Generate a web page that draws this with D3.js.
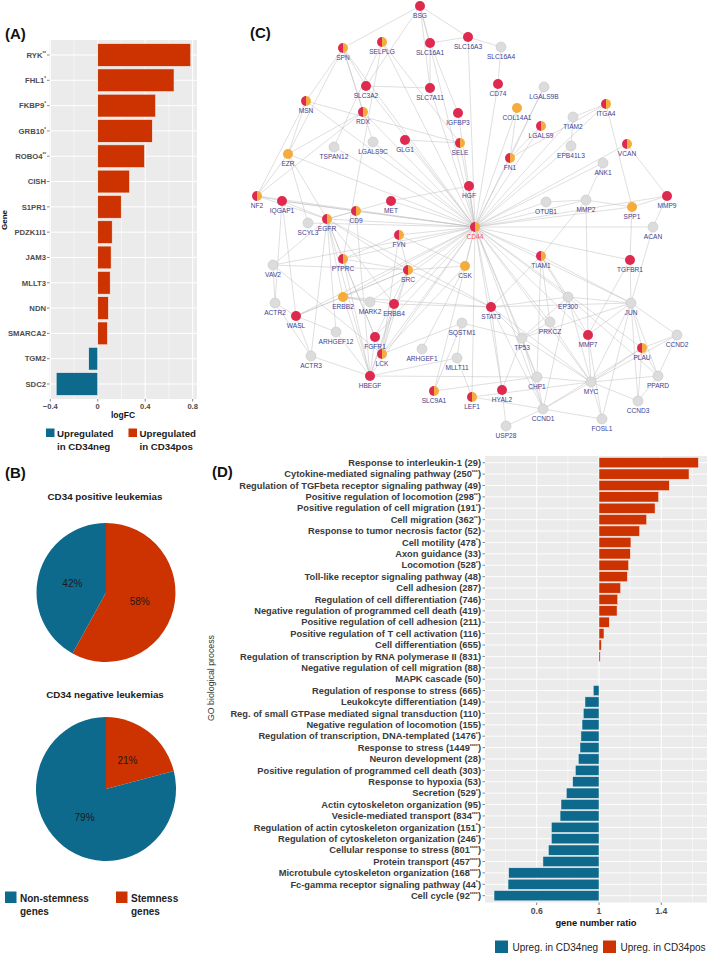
<!DOCTYPE html>
<html><head><meta charset="utf-8">
<script src="https://cdn.jsdelivr.net/npm/d3@7"></script>
<style>body{margin:0;background:#fff}svg{display:block}text{font-family:"Liberation Sans",Arial,sans-serif}</style>
</head><body><svg id="c" width="709" height="954"></svg>
<script>
// ---------- Panel A data ----------
const genes = ["RYK","FHL1","FKBP9","GRB10","ROBO4","CISH","S1PR1","PDZK1I1","JAM3","MLLT3","NDN","SMARCA2","TGM2","SDC2"];
const geneStars = ["**","*","*","*","**","","","","","","","","",""];
const geneLogFC = [0.784,0.643,0.488,0.46,0.395,0.268,0.198,0.122,0.113,0.105,0.09,0.082,-0.076,-0.35];
const logFCTicks = [-0.4,0,0.4,0.8];
const logFCMinor = [-0.2,0.2,0.6];
const legendA = ["Upregulated\nin CD34neg","Upregulated\nin CD34pos"];

// ---------- Panel B data ----------
const pieTitles = ["CD34 positive leukemias","CD34 negative leukemias"];
const pieCategories = ["Stemness genes","Non-stemness genes"];
const piePositive = [58,42];
const pieNegative = [21,79];
const legendB = ["Non-stemness\ngenes","Stemness\ngenes"];

// ---------- Panel C data ----------
const netNames = ["BSG","SPN","SELPLG","SLC16A1","SLC16A3","SLC16A4","SLC3A2","SLC7A11","MSN","RDX","IGFBP3","CD74","LGALS9B","COL14A1","ITGA4","TIAM2","LGALS9","TSPAN12","LGALS9C","GLG1","SELE","EPB41L3","VCAN","EZR","FN1","ANK1","HGF","NF2","IQGAP1","MET","MMP9","OTUB1","MMP2","SPP1","CD9","EGFR","SCYL3","CD44","ACAN","FYN","TIAM1","TGFBR1","PTPRC","VAV2","CSK","SRC","ERBB2","EP300","ACTR2","MARK2","ERBB4","JUN","STAT3","WASL","PRKCZ","SQSTM1","ARHGEF12","FGFR1","TP53","MMP7","CCND2","PLAU","ARHGEF1","LCK","MLLT11","ACTR3","HBEGF","CHP1","PPARD","MYC","SLC9A1","HYAL2","LEF1","CCND3","CCND1","FOSL1","USP28"];
// node class: r = CD34pos-related, o = other study, h = both, g = linker
const netTypes = ["r","h","h","r","r","g","r","r","h","h","r","r","g","o","h","g","h","g","g","r","h","g","h","o","h","g","r","h","r","r","r","g","g","o","h","h","g","h","g","h","h","r","h","g","o","h","o","g","g","g","r","g","r","r","g","g","g","r","g","r","g","h","g","h","g","g","r","g","g","g","h","r","h","g","g","g","g"];
// layout units (network layout space)
const netLayoutX = [170,93,132,180,218,251,116,180,56,113,208,248,294,267,356,323,291,84,123,155,210,321,377,38,260,353,219,7,32,141,417,296,336,382,106,77,58,225,403,149,291,380,93,23,215,158,93,318,25,120,144,381,241,46,300,212,86,125,272,338,427,392,172,132,207,61,120,287,408,341,184,252,222,388,293,352,256];
const netLayoutY = [6,48,42,43,37,47,86,88,101,112,113,84,87,108,104,117,126,147,142,140,143,146,144,154,158,163,186,196,201,201,196,202,200,207,211,219,223,227,227,235,256,260,259,265,266,270,297,297,303,302,304,303,307,316,322,323,332,337,338,335,335,348,349,354,358,356,376,377,376,382,391,390,397,401,409,419,426];
const hubTargets = ["BSG","SPN","SELPLG","SLC16A3","SLC3A2","SLC7A11","MSN","RDX","IGFBP3","GLG1","SELE","EZR","HGF","NF2","IQGAP1","MET","CD9","CD74","COL14A1","ITGA4","LGALS9","VCAN","FN1","MMP9","OTUB1","MMP2","SPP1","EGFR","FYN","PTPRC","SRC","CSK","ERBB2","ERBB4","FGFR1","LCK","HBEGF","STAT3","TIAM1","TGFBR1","JUN","MMP7","PLAU","TIAM2","EPB41L3","ANK1","SLC9A1","LEF1","HYAL2","EP300","ACAN","VAV2","MARK2","TP53","MYC","CCND1","SCYL3","TSPAN12","LGALS9C","WASL","CHP1","PRKCZ","LGALS9B"];
const otherEdges = [["BSG","SPN"],["BSG","SLC16A1"],["BSG","SLC16A3"],["BSG","SLC7A11"],["BSG","SLC3A2"],["SLC16A1","SLC16A3"],["SLC16A3","SLC16A4"],["SLC16A4","CD74"],["SLC16A1","SLC7A11"],["SLC3A2","SLC7A11"],["SPN","MSN"],["SPN","EZR"],["SPN","SLC3A2"],["SPN","RDX"],["SPN","LGALS9C"],["SELPLG","SELE"],["SELPLG","PTPRC"],["SELPLG","TSPAN12"],["MSN","EZR"],["MSN","NF2"],["MSN","SELE"],["EZR","NF2"],["EZR","EGFR"],["EZR","SCYL3"],["EZR","RDX"],["RDX","NF2"],["GLG1","SELE"],["IGFBP3","SLC16A1"],["HGF","MET"],["MET","EGFR"],["NF2","IQGAP1"],["NF2","EGFR"],["IQGAP1","EGFR"],["IQGAP1","CD9"],["IQGAP1","WASL"],["IQGAP1","ACTR2"],["CD9","EGFR"],["CD9","HBEGF"],["EGFR","ERBB2"],["EGFR","ERBB4"],["EGFR","SRC"],["EGFR","HBEGF"],["EGFR","STAT3"],["EGFR","VAV2"],["EGFR","PTPRC"],["EGFR","ACTR3"],["EGFR","FGFR1"],["VAV2","SRC"],["VAV2","LCK"],["VAV2","ACTR2"],["PTPRC","LCK"],["PTPRC","FYN"],["PTPRC","SRC"],["PTPRC","HBEGF"],["SRC","FYN"],["SRC","LCK"],["SRC","CSK"],["SRC","STAT3"],["SRC","ERBB2"],["SRC","HBEGF"],["SRC","WASL"],["FYN","CSK"],["FYN","LCK"],["CSK","LCK"],["ERBB2","ERBB4"],["ERBB2","HBEGF"],["ERBB2","MARK2"],["ERBB2","STAT3"],["ERBB2","WASL"],["ERBB4","HBEGF"],["ERBB4","LCK"],["ERBB4","STAT3"],["FGFR1","HBEGF"],["FGFR1","SRC"],["ACTR2","ACTR3"],["ACTR2","WASL"],["ACTR3","WASL"],["ACTR3","HBEGF"],["ARHGEF12","WASL"],["ARHGEF12","HBEGF"],["ARHGEF12","EGFR"],["HBEGF","MLLT11"],["HBEGF","CHP1"],["SQSTM1","MLLT11"],["SQSTM1","TP53"],["SQSTM1","SLC9A1"],["SQSTM1","LCK"],["MLLT11","LEF1"],["ARHGEF1","CSK"],["STAT3","JUN"],["STAT3","EP300"],["STAT3","TP53"],["STAT3","MYC"],["STAT3","CCND1"],["STAT3","HYAL2"],["STAT3","TIAM1"],["TIAM1","EP300"],["TIAM1","JUN"],["TIAM1","PRKCZ"],["TIAM1","CHP1"],["TIAM1","MMP7"],["EP300","JUN"],["EP300","TP53"],["EP300","MYC"],["EP300","CCND1"],["EP300","PPARD"],["JUN","ACAN"],["JUN","TGFBR1"],["JUN","MMP7"],["JUN","PLAU"],["JUN","CCND2"],["JUN","PPARD"],["JUN","MYC"],["JUN","FOSL1"],["JUN","CCND3"],["JUN","TP53"],["TGFBR1","MMP7"],["TGFBR1","SPP1"],["SPP1","MMP9"],["SPP1","ITGA4"],["SPP1","MMP2"],["MMP9","VCAN"],["MMP9","ACAN"],["ITGA4","TIAM2"],["ITGA4","FN1"],["LGALS9","FN1"],["LGALS9B","FN1"],["COL14A1","FN1"],["MMP2","MMP7"],["MMP2","TIAM1"],["MMP2","OTUB1"],["MMP7","MYC"],["MMP7","FOSL1"],["PRKCZ","TP53"],["PRKCZ","MYC"],["TP53","MYC"],["TP53","CCND1"],["TP53","CHP1"],["TP53","HYAL2"],["CHP1","CCND1"],["CHP1","MYC"],["MYC","CCND1"],["MYC","CCND2"],["MYC","CCND3"],["MYC","FOSL1"],["MYC","PPARD"],["MYC","PLAU"],["PLAU","CCND2"],["PLAU","PPARD"],["PLAU","CCND3"],["PLAU","CCND1"],["PPARD","CCND3"],["PPARD","CCND2"],["CCND1","FOSL1"],["USP28","HYAL2"],["USP28","CCND1"],["LEF1","MYC"],["LEF1","CCND1"],["SLC9A1","CHP1"],["EPB41L3","TIAM2"],["ANK1","MMP2"]];

// ---------- Panel D data ----------
const goTerms = ["Response to interleukin-1","Cytokine-mediated signaling pathway","Regulation of TGFbeta receptor signaling pathway","Positive regulation of locomotion","Positive regulation of cell migration","Cell migration","Response to tumor necrosis factor","Cell motility","Axon guidance","Locomotion","Toll-like receptor signaling pathway","Cell adhesion","Regulation of cell differentiation","Negative regulation of programmed cell death","Positive regulation of cell adhesion","Positive regulation of T cell activation","Cell differentiation","Regulation of transcription by RNA polymerase II","Negative regulation of cell migration","MAPK cascade","Regulation of response to stress","Leukokcyte differentiation","Reg. of small GTPase mediated signal transduction","Negative regulation of locomotion ","Regulation of transcription, DNA-templated","Response to stress","Neuron development","Positive regulation of programmed cell death","Response to hypoxia","Secretion","Actin cytoskeleton organization","Vesicle-mediated transport","Regulation of actin cytoskeleton organization","Regulation of cytoskeleton organization","Cellular response to stress","Protein transport","Microtubule cytoskeleton organization","Fc-gamma receptor signaling pathway","Cell cycle"];
const goCounts = [29,250,49,298,191,362,52,478,33,528,48,287,746,419,211,116,655,831,88,50,665,149,110,155,1476,1449,28,303,53,529,95,834,151,246,801,457,168,44,92];
const goStars = ["","***","","**","*","**","","*","","*","","","","","","","","","","","","","","","*","****","","","","*","","***","*","*","****","****","****","*","****"];
const goRatios = [1.638,1.578,1.451,1.383,1.36,1.306,1.261,1.205,1.201,1.19,1.182,1.139,1.12,1.116,1.066,1.032,1.015,1.008,1.0,1.0,0.963,0.91,0.899,0.891,0.884,0.878,0.867,0.848,0.831,0.79,0.756,0.75,0.694,0.694,0.675,0.64,0.42,0.416,0.326];
const ratioTicks = [0.6,1,1.4];
const ratioMinor = [0.4,0.8,1.2,1.6];
const legendD = ["Upreg. in CD34neg","Upreg. in CD34pos"];

// ---------- Styles ----------
const BLUE = "#0E6A8C", RED = "#CC3300", PANEL = "#EBEBEB", AXT = "#4D4D4D";
const svg = d3.select("#c");

function panelLabel(t,x,y){ svg.append("text").attr("x",x).attr("y",y).attr("font-size",15).attr("font-weight","bold").attr("fill","#111").text(t); }
panelLabel("(A)",5,38.5); panelLabel("(B)",5,478); panelLabel("(C)",250,38); panelLabel("(D)",212,477);

// ================= Panel A =================
(function(){
  const x = d3.scaleLinear().domain([-0.4065,0.8365]).range([49.5,197]);
  const y = d3.scalePoint().domain(genes).range([55,384]);
  const step = y.step(), top = 40, bot = 399;
  const g = svg.append("g");
  g.append("rect").attr("x",x.range()[0]).attr("y",top).attr("width",x.range()[1]-x.range()[0]).attr("height",bot-top).attr("fill",PANEL);
  g.selectAll(".mn").data(logFCMinor).join("line").attr("x1",d=>x(d)).attr("x2",d=>x(d)).attr("y1",top).attr("y2",bot).attr("stroke","#fff").attr("stroke-width",0.5);
  g.selectAll(".mj").data(logFCTicks).join("line").attr("x1",d=>x(d)).attr("x2",d=>x(d)).attr("y1",top).attr("y2",bot).attr("stroke","#fff").attr("stroke-width",1);
  g.selectAll(".hg").data(genes).join("line").attr("x1",x.range()[0]).attr("x2",x.range()[1]).attr("y1",d=>y(d)).attr("y2",d=>y(d)).attr("stroke","#fff").attr("stroke-width",1);
  g.selectAll(".bar").data(genes).join("rect")
    .attr("x",(d,i)=>x(Math.min(0,geneLogFC[i]))).attr("width",(d,i)=>Math.abs(x(geneLogFC[i])-x(0)))
    .attr("y",d=>y(d)-step*0.45).attr("height",step*0.9)
    .attr("fill",(d,i)=>geneLogFC[i]>=0?RED:BLUE).attr("stroke","#f3f3f3").attr("stroke-width",0.6);
  g.selectAll(".yt").data(genes).join("line").attr("x1",x.range()[0]-2.5).attr("x2",x.range()[0]).attr("y1",d=>y(d)).attr("y2",d=>y(d)).attr("stroke","#333").attr("stroke-width",0.6);
  const yl = g.selectAll(".yl").data(genes).join("text").attr("x",x.range()[0]-3.5).attr("y",d=>y(d)+2.8).attr("text-anchor","end")
    .attr("font-size",7.7).attr("font-weight","bold").attr("fill",AXT);
  yl.each(function(d,i){ const t=d3.select(this); t.append("tspan").text(d); if(geneStars[i]) t.append("tspan").attr("font-size",4.5).attr("dy",-3).text(geneStars[i]); });
  g.selectAll(".xt").data(logFCTicks).join("line").attr("x1",d=>x(d)).attr("x2",d=>x(d)).attr("y1",bot).attr("y2",bot+2.5).attr("stroke","#333").attr("stroke-width",0.6);
  g.selectAll(".xl").data(logFCTicks).join("text").attr("x",d=>x(d)).attr("y",bot+10).attr("text-anchor","middle").attr("font-size",7.6).attr("font-weight","bold").attr("fill",AXT).text(d=>d===0?"0":d3.format(".1f")(d));
  g.append("text").attr("x",123).attr("y",418).attr("text-anchor","middle").attr("font-size",8.5).attr("font-weight","bold").attr("fill","#111").text("logFC");
  g.append("text").attr("transform","translate(7,220) rotate(-90)").attr("text-anchor","middle").attr("font-size",8).attr("font-weight","bold").attr("fill","#111").text("Gene");
  const lx=[46,128.5], cols=[BLUE,RED];
  legendA.forEach((s,i)=>{
    g.append("rect").attr("x",lx[i]).attr("y",428.5).attr("width",8.5).attr("height",8.5).attr("fill",cols[i]);
    s.split("\n").forEach((ln,j)=>g.append("text").attr("x",lx[i]+11).attr("y",437+j*13).attr("font-size",9.7).attr("font-weight","bold").attr("fill","#222").text(ln));
  });
})();

// ================= Panel B =================
(function(){
  const color = d3.scaleOrdinal().domain(pieCategories).range([RED,BLUE]);
  const pie = d3.pie().sort(null).value(d=>d.v);
  const specs = [{vals:piePositive,cx:106,cy:592.5,rx:69.5,ry:69.5,ty:500,title:pieTitles[0]},
                 {vals:pieNegative,cx:106,cy:789,rx:70,ry:72,ty:698,title:pieTitles[1]}];
  specs.forEach(s=>{
    svg.append("text").attr("x",105).attr("y",s.ty).attr("text-anchor","middle").attr("font-size",9.8).attr("font-weight","bold").attr("fill","#222").text(s.title);
    const data = pie(pieCategories.map((c,i)=>({c,v:s.vals[i]})));
    const arc = d3.arc().innerRadius(0).outerRadius(s.rx);
    const g = svg.append("g").attr("transform",`translate(${s.cx},${s.cy}) scale(1,${s.ry/s.rx})`);
    g.selectAll("path").data(data).join("path").attr("d",arc).attr("fill",d=>color(d.data.c));
    data.forEach(d=>{
      const [px,py]=arc.centroid(d);
      svg.append("text").attr("x",s.cx+px).attr("y",s.cy+py*s.ry/s.rx+3.5).attr("text-anchor","middle").attr("font-size",10).attr("fill","#1a1a1a").text(d.data.v+"%");
    });
  });
  const lx=[5,116], cols=[BLUE,RED];
  legendB.forEach((s,i)=>{
    svg.append("rect").attr("x",lx[i]).attr("y",891.5).attr("width",11.5).attr("height",11.5).attr("fill",cols[i]);
    s.split("\n").forEach((ln,j)=>svg.append("text").attr("x",lx[i]+15).attr("y",902+j*12.5).attr("font-size",10).attr("font-weight","bold").attr("fill","#222").text(ln));
  });
})();

// ================= Panel C =================
(function(){
  const x = d3.scaleLinear().domain([0,440]).range([250,690]);
  const y = d3.scaleLinear().domain([0,440]).range([0,440]);
  const nodes = netNames.map((n,i)=>({id:n,type:netTypes[i],x:x(netLayoutX[i]),y:y(netLayoutY[i])}));
  const byId = new Map(nodes.map(n=>[n.id,n]));
  const edges = hubTargets.map(t=>["CD44",t]).concat(otherEdges);
  const g = svg.append("g");
  g.selectAll("line").data(edges).join("line")
    .attr("x1",d=>byId.get(d[0]).x).attr("y1",d=>byId.get(d[0]).y)
    .attr("x2",d=>byId.get(d[1]).x).attr("y2",d=>byId.get(d[1]).y)
    .attr("stroke","#BDBDBD").attr("stroke-width",0.55).attr("stroke-opacity",0.9);
  const NRED="#DF2A50", NOR="#F4AD3D", NGR="#DCDCDC", r=5;
  const half = d3.arc().innerRadius(0).outerRadius(r);
  const ng = g.selectAll(".n").data(nodes).join("g").attr("transform",d=>`translate(${d.x},${d.y})`);
  ng.each(function(d){
    const s=d3.select(this);
    if(d.type==="h"){
      s.append("path").attr("d",half({startAngle:Math.PI,endAngle:2*Math.PI})).attr("fill",NRED);
      s.append("path").attr("d",half({startAngle:0,endAngle:Math.PI})).attr("fill",NOR);
    } else {
      s.append("circle").attr("r",r).attr("fill",d.type==="r"?NRED:d.type==="o"?NOR:NGR)
        .attr("stroke",d.type==="g"?"#C6C6C6":"none").attr("stroke-width",0.6);
    }
  });
  ng.append("text").attr("y",12).attr("text-anchor","middle").attr("font-size",6.6)
    .attr("fill",d=>d.id==="CD44"?"#FF4A4A":"#3D3D8F").text(d=>d.id);
})();

// ================= Panel D =================
(function(){
  const x = d3.scaleLinear().domain([0.6,1.4]).range([536.7,661.3]);
  const y = d3.scalePoint().domain(goTerms).range([462.7,895.7]);
  const step=y.step(), left=485, right=707, top=456, bot=902.5;
  const g = svg.append("g");
  g.append("rect").attr("x",left).attr("y",top).attr("width",right-left).attr("height",bot-top).attr("fill",PANEL);
  g.selectAll(".mn").data(ratioMinor).join("line").attr("x1",d=>x(d)).attr("x2",d=>x(d)).attr("y1",top).attr("y2",bot).attr("stroke","#fff").attr("stroke-width",0.5);
  g.selectAll(".mj").data(ratioTicks).join("line").attr("x1",d=>x(d)).attr("x2",d=>x(d)).attr("y1",top).attr("y2",bot).attr("stroke","#fff").attr("stroke-width",1);
  g.selectAll(".hg").data(goTerms).join("line").attr("x1",left).attr("x2",right).attr("y1",d=>y(d)).attr("y2",d=>y(d)).attr("stroke","#fff").attr("stroke-width",0.9);
  g.selectAll(".bar").data(goTerms).join("rect")
    .attr("x",(d,i)=>x(Math.min(1,goRatios[i]))).attr("width",(d,i)=>Math.abs(x(goRatios[i])-x(1)))
    .attr("y",d=>y(d)-step*0.45).attr("height",step*0.9)
    .attr("fill",(d,i)=>goRatios[i]>=1?RED:BLUE).attr("stroke","#f3f3f3").attr("stroke-width",0.5);
  g.selectAll(".yt").data(goTerms).join("line").attr("x1",left-2.5).attr("x2",left).attr("y1",d=>y(d)).attr("y2",d=>y(d)).attr("stroke","#333").attr("stroke-width",0.6);
  const yl = g.selectAll(".yl").data(goTerms).join("text").attr("x",left-4).attr("y",d=>y(d)+3.2).attr("text-anchor","end")
    .attr("font-size",9.3).attr("font-weight","bold").attr("fill","#3a3a3a");
  yl.each(function(d,i){
    const t=d3.select(this);
    t.append("tspan").text(d+" ("+goCounts[i]);
    if(goStars[i]){ t.append("tspan").attr("font-size",5.2).attr("dy",-3.2).text(goStars[i]); t.append("tspan").attr("dy",3.2).text(")"); }
    else t.append("tspan").text(")");
  });
  g.selectAll(".xt").data(ratioTicks).join("line").attr("x1",d=>x(d)).attr("x2",d=>x(d)).attr("y1",bot).attr("y2",bot+2.5).attr("stroke","#333").attr("stroke-width",0.6);
  g.selectAll(".xl").data(ratioTicks).join("text").attr("x",d=>x(d)).attr("y",bot+11.5).attr("text-anchor","middle").attr("font-size",8.7).attr("font-weight","bold").attr("fill",AXT).text(d=>String(d));
  g.append("text").attr("x",596).attr("y",926).attr("text-anchor","middle").attr("font-size",9.3).attr("font-weight","bold").attr("fill","#111").text("gene number ratio");
  g.append("text").attr("transform","translate(214,678) rotate(-90)").attr("text-anchor","middle").attr("font-size",8.8).attr("fill","#333").text("GO biological process");
  const lx=[495,603], cols=[BLUE,RED];
  legendD.forEach((s,i)=>{
    g.append("rect").attr("x",lx[i]).attr("y",940.5).attr("width",13).attr("height",12.5).attr("fill",cols[i]);
    g.append("text").attr("x",lx[i]+17.5).attr("y",950.5).attr("font-size",10).attr("fill","#222").text(s);
  });
})();
</script></body></html>
